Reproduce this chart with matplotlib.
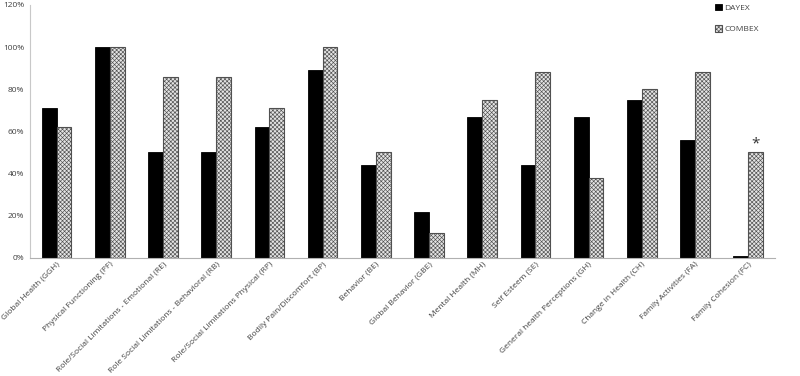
import matplotlib.pyplot as plt
import numpy as np
from matplotlib.ticker import FuncFormatter

# Data (percent)
categories = ['Global Health (GGH)', 'Physical Functioning (PF)',
              'Role/Social Limitations - Emotional (RE)',
              'Role Social Limitations - Behavioral (RB)',
              'Role/Social Limitations Physical (RP)',
              'Bodily Pain/Discomfort (BP)', 'Behavior (BE)',
              'Global Behavior (GBE)', 'Mental Health (MH)', 'Self Esteem (SE)',
              'General health Perceptions (GH)', 'Change in Health (CH)',
              'Family Activities (FA)', 'Family Cohesion (FC)']
dayex = [71, 100, 50, 50, 62, 89, 44, 22, 67, 44, 67, 75, 56, 1]
combex = [62, 100, 86, 86, 71, 100, 50, 12, 75, 88, 38, 80, 88, 50]

plt.rcParams['font.family'] = ['Open Sans', 'DejaVu Sans']
plt.rcParams['hatch.linewidth'] = 0.45

fig = plt.figure(figsize=(8, 3.76), dpi=100)
ax = fig.add_axes([0.0375, 0.314, 0.931, 0.673])

x = np.arange(len(categories))
w = 0.28
ax.bar(x - w / 2, dayex, w, color='black', edgecolor='black', linewidth=0.6,
       label='DAYEX')
ax.bar(x + w / 2, combex, w, color='#e4e4e4', edgecolor='#505050',
       hatch='xxxxxxxx', linewidth=0.8, label='COMBEX')

# significance marker
ax.text(x[-1] + w / 2, combex[-1] + 0.5, '*', ha='center', va='bottom',
        fontsize=11, color='#333333')

ax.set_xlim(-0.5, len(categories) - 0.5)
ax.set_ylim(0, 120)
ax.set_yticks(range(0, 121, 20))
ax.yaxis.set_major_formatter(FuncFormatter(lambda v, p: f'{int(v)}%'))
ax.set_xticks(x)
ax.set_xticklabels(categories, rotation=45, ha='right', rotation_mode='anchor',
                   fontsize=6)
ax.tick_params(axis='both', length=0, labelsize=6, colors='#404040')
ax.tick_params(axis='x', pad=2)
ax.tick_params(axis='y', pad=4)

for s in ['top', 'right']:
    ax.spines[s].set_visible(False)
ax.spines['left'].set_color('#c8c8c8')
ax.spines['bottom'].set_color('#b0b0b0')

fig.legend(loc='upper right', bbox_to_anchor=(0.958, 1.01), frameon=False,
           fontsize=6, handlelength=0.8, handleheight=0.8, handletextpad=0.3,
           labelspacing=1.6, labelcolor='#404040')

fig.savefig('out.png', dpi=100)
